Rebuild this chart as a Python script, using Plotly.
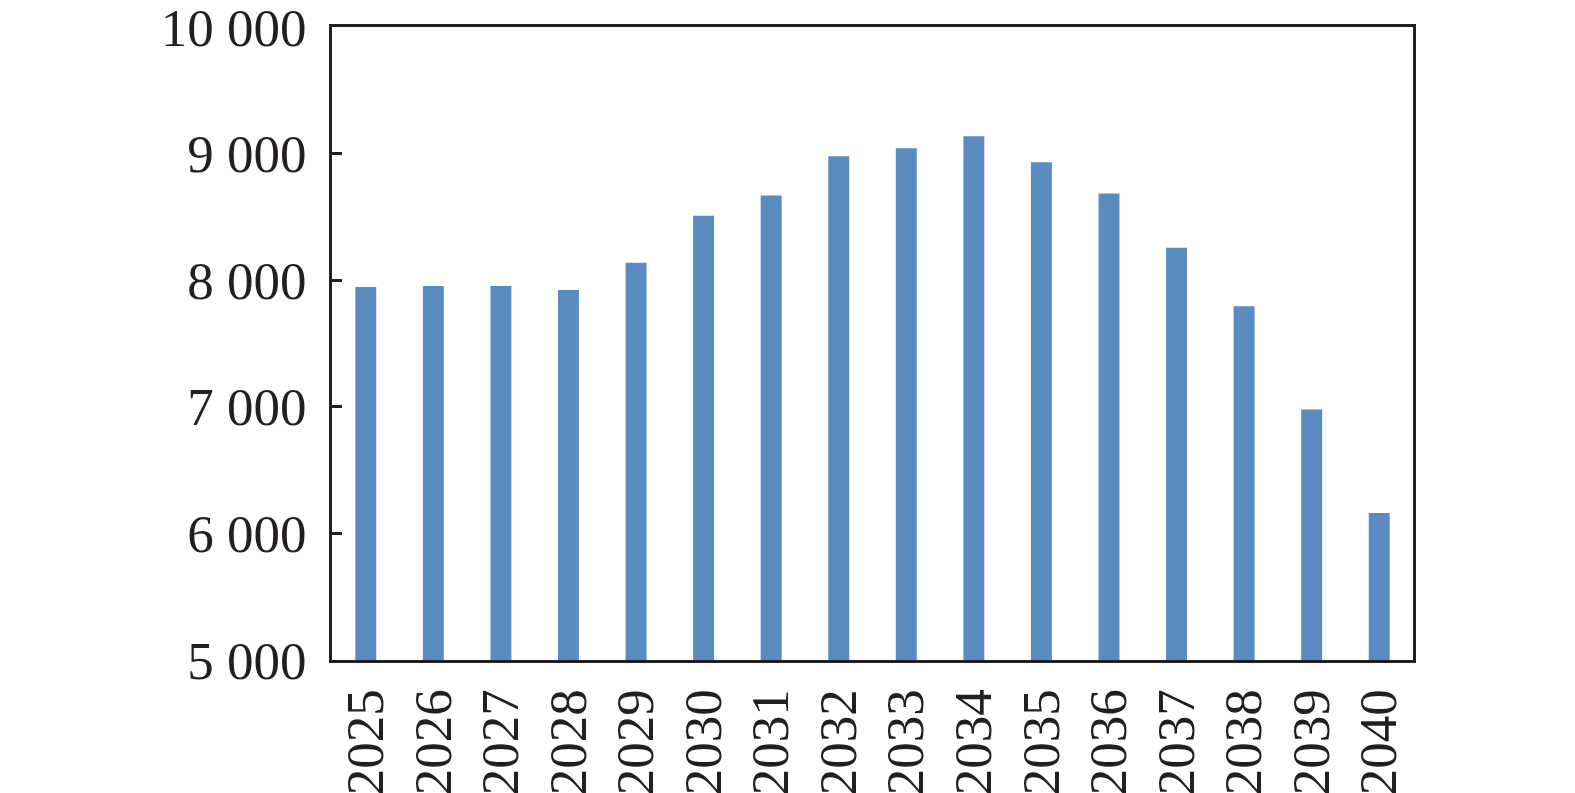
import plotly.graph_objects as go

years = ["2025", "2026", "2027", "2028", "2029", "2030", "2031", "2032",
         "2033", "2034", "2035", "2036", "2037", "2038", "2039", "2040"]
values = [7947, 7955, 7955, 7923, 8137, 8510, 8669, 8979,
          9042, 9137, 8931, 8684, 8256, 7795, 6978, 6161]
y_ticks = [5000, 6000, 7000, 8000, 9000, 10000]

fig = go.Figure(go.Bar(
    x=years, y=values,
    marker=dict(color="#5A8BC0", line=dict(width=0)),
))

font = dict(family="Liberation Serif", size=53, color="#231F20")

fig.update_layout(
    width=1575, height=793,
    margin=dict(l=324, r=170, t=19, b=141, autoexpand=False),
    paper_bgcolor="white", plot_bgcolor="white",
    bargap=0.69,
    separators=". ",
    showlegend=False,
    font=font,
)
fig.update_xaxes(
    type="category",
    tickangle=-90,
    automargin=False,
    showline=True, linecolor="#231F20", linewidth=3, mirror=True,
    ticks="", showgrid=False,
    tickfont=font,
    ticklabelstandoff=5,
    ticklabeloverflow="allow",
)
fig.update_yaxes(
    range=[5000, 10000],
    tickvals=y_ticks,
    tickformat=",",
    automargin=False,
    showline=True, linecolor="#231F20", linewidth=3, mirror=True,
    ticks="inside", ticklen=10, tickwidth=3, tickcolor="#231F20",
    showgrid=False, zeroline=False,
    tickfont=font,
    ticklabelstandoff=12,
    ticklabeloverflow="allow",
)

fig.write_html("out.html")
